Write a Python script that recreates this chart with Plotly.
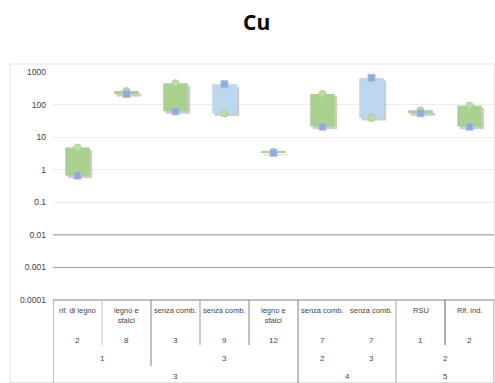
import plotly.graph_objects as go

# --- data -------------------------------------------------------------
categorie = ["rif. di legno", "legno e<br>sfalci", "senza comb.", "senza comb.",
             "legno e<br>sfalci", "senza comb.", "senza comb.", "RSU", "Rif. ind."]
livello_2 = ["2", "8", "3", "9", "12", "7", "7", "1", "2"]
# (label, first category index, last category index)
livello_3 = [("1", 0, 1), ("3", 2, 4), ("2", 5, 5), ("3", 6, 6), ("2", 7, 8)]
livello_4 = [("3", 0, 4), ("4", 5, 6), ("5", 7, 8)]

apertura = [0.66, 210, 62, 420, 3.3, 21, 660, 54, 21]     # square markers
chiusura = [4.8, 260, 450, 53, 3.5, 212, 39, 67, 93]      # circle markers

y_tickvals = [0.0001, 0.001, 0.01, 0.1, 1, 10, 100, 1000]
y_ticktext = ["0.0001", "0.001", "0.01", "0.1", "1", "10", "100", "1000"]

# --- geometry helpers (pixels -> paper) ------------------------------
W, H = 495, 383
L, R, T, B = 53, 1, 72, 83
PW, PH = W - L - R, H - T - B


def px(xp):
    return (xp - L) / PW


def py(yp):
    return (H - B - yp) / PH


x = list(range(len(categorie)))
bassi = [min(a, c) for a, c in zip(apertura, chiusura)]
alti = [max(a, c) for a, c in zip(apertura, chiusura)]
colori = ["#a9d18e" if c >= a else "#bdd7ee" for a, c in zip(apertura, chiusura)]

# soft drop shadow under each up/down box
k = 10 ** (-2.5 / (PH / 7))
fig = go.Figure()
fig.add_trace(go.Bar(
    x=x, base=[b * k for b in bassi], y=[(h - b) * k for h, b in zip(alti, bassi)],
    width=0.5, offset=-0.2, marker=dict(color="rgba(90,90,90,0.3)", line=dict(width=0)),
    hoverinfo="skip", showlegend=False))
fig.add_trace(go.Bar(
    x=x, base=bassi, y=[h - b for h, b in zip(alti, bassi)],
    width=0.5, offset=-0.25, marker=dict(color=colori, line=dict(width=0)),
    showlegend=False))
fig.add_trace(go.Scatter(
    x=x, y=chiusura, mode="markers", showlegend=False,
    marker=dict(symbol="circle", size=7, color="#b9dfa3",
                line=dict(color="#a9d18e", width=1))))
fig.add_trace(go.Scatter(
    x=x, y=apertura, mode="markers", showlegend=False,
    marker=dict(symbol="square", size=7, color="#8faadc",
                line=dict(color="#a9bfe6", width=1))))

shapes = []
# chart area border
shapes.append(dict(type="rect", xref="paper", yref="paper",
                   x0=px(10), x1=px(494.5), y0=py(382.5), y1=py(64),
                   line=dict(color="#e3e3e3", width=1), fillcolor="rgba(0,0,0,0)",
                   layer="below"))
# darker horizontal rules at the lowest decades
for v in (0.01, 0.001):
    shapes.append(dict(type="line", xref="paper", yref="y", x0=0, x1=1, y0=v, y1=v,
                       line=dict(color="#9a9a9a", width=1)))
# category table: top border
shapes.append(dict(type="line", xref="paper", yref="paper", x0=0, x1=1,
                   y0=0, y1=0, line=dict(color="#808080", width=1)))
# vertical separators: (boundary position, bottom pixel, colour)
separatori = [(-0.5, 383, "#808080"), (0.5, 345, "#c0c0c0"), (1.5, 366, "#808080"),
              (2.5, 345, "#999999"), (3.5, 345, "#808080"), (4.5, 383, "#808080"),
              (6.5, 383, "#a8a8a8"), (7.5, 345, "#606060"), (8.5, 383, "#999999")]
for xb, yb, col in separatori:
    shapes.append(dict(type="line", xref="x", yref="paper", x0=xb, x1=xb,
                       y0=0, y1=py(yb), line=dict(color=col, width=1)))

annotations = []
txt = "#454545"
for i, lab in enumerate(categorie):
    annotations.append(dict(x=i, y=py(304), xref="x", yref="paper", text=lab,
                            showarrow=False, yanchor="top", xanchor="center",
                            font=dict(family="Liberation Sans", size=7.5, color=txt)))
for i, lab in enumerate(livello_2):
    annotations.append(dict(x=i, y=py(340), xref="x", yref="paper", text=lab,
                            showarrow=False, yanchor="middle",
                            font=dict(family="Liberation Sans", size=8, color=txt)))
for lab, a, b in livello_3:
    annotations.append(dict(x=(a + b) / 2, y=py(358.5), xref="x", yref="paper", text=lab,
                            showarrow=False, yanchor="middle",
                            font=dict(family="Liberation Sans", size=8, color=txt)))
for lab, a, b in livello_4:
    annotations.append(dict(x=(a + b) / 2, y=py(376.5), xref="x", yref="paper", text=lab,
                            showarrow=False, yanchor="middle",
                            font=dict(family="Liberation Sans", size=8, color=txt)))
# title
annotations.append(dict(x=px(256), y=py(22), xref="paper", yref="paper",
                        text="<b>Cu</b>", showarrow=False, yanchor="middle",
                        font=dict(family="Open Sans", size=21, color="#000000")))

fig.update_layout(
    width=W, height=H, margin=dict(l=L, r=R, t=T, b=B),
    paper_bgcolor="white", plot_bgcolor="white", barmode="overlay",
    shapes=shapes, annotations=annotations,
    xaxis=dict(range=[-0.5, 8.5], showticklabels=False, showgrid=False,
               zeroline=False, showline=False, fixedrange=True),
    yaxis=dict(type="log", range=[-4, 3], tickvals=y_tickvals, ticktext=y_ticktext,
               showgrid=True, gridcolor="#ececec", gridwidth=1, zeroline=False,
               showline=False, ticklabelstandoff=6,
               tickfont=dict(family="Liberation Sans", size=8.5, color="#404040")),
)

fig.write_html("out.html")
